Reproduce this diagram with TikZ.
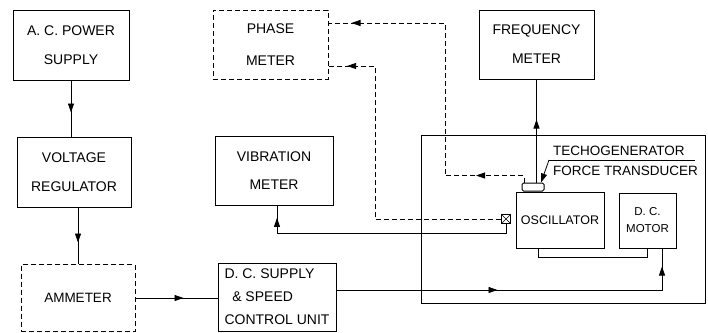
\documentclass[tikz,border=0pt]{standalone}
\usepackage{fontspec}
\setmainfont{Liberation Sans}
\usetikzlibrary{arrows.meta,decorations.markings}
\begin{document}
\begin{tikzpicture}[x=1pt,y=-1pt,
  blk/.style={draw,line width=1pt,inner sep=0pt,align=center,font=\fontsize{14}{29}\selectfont},
  dblk/.style={blk,dash pattern=on 5pt off 3pt},
  conn/.style={line width=0.8pt},
  dconn/.style={conn,dash pattern=on 5pt off 3pt},
  tip/.style={-{Triangle[length=9pt,width=6pt]}},
  marr/.style={postaction={decorate},decoration={markings,mark=at position #1 with {\arrow{Triangle[length=9pt,width=6pt]}}}},
  marrtwo/.style 2 args={postaction={decorate},decoration={markings,
     mark=at position #1 with {\arrow{Triangle[length=9pt,width=6pt]}},
     mark=at position #2 with {\arrow{Triangle[length=9pt,width=6pt]}}}},
  lbl/.style={inner sep=0pt,font=\fontsize{13.5}{16}\selectfont}
]
\useasboundingbox (0,0) rectangle (708,332);

% blocks
\node[blk,minimum width=116pt,minimum height=70pt] (ac) at (71,45) {A. C. POWER\\SUPPLY};
\node[blk,minimum width=114pt,minimum height=70pt] (vr) at (74,172) {VOLTAGE\\REGULATOR};
\node[dblk,minimum width=114pt,minimum height=67pt,font=\fontsize{13.5}{16}\selectfont] (am) at (78,298) {AMMETER};
\node[blk,minimum width=118pt,minimum height=68pt,align=left,font=\fontsize{14}{23}\selectfont] (dc) at (277,297) {D. C. SUPPLY\\\ \ \& SPEED\\CONTROL UNIT};
\node[dblk,minimum width=115pt,minimum height=69pt,font=\fontsize{14}{32}\selectfont] (pm) at (270.5,44.5) {PHASE\\METER};
\node[blk,minimum width=118pt,minimum height=69pt,font=\fontsize{14}{28}\selectfont] (vm) at (274,170.5) {VIBRATION\\METER};
\node[blk,minimum width=115pt,minimum height=69pt] (fm) at (536.5,44.5) {FREQUENCY\\METER};

% enclosure and its contents
\node[draw,line width=1pt,minimum width=284pt,minimum height=168pt,inner sep=0pt] (encl) at (563,219) {};
\node[blk,minimum width=88pt,minimum height=56pt,font=\fontsize{12.5}{15}\selectfont] (osc) at (560,220) {OSCILLATOR};
\node[blk,minimum width=57pt,minimum height=55pt,font=\fontsize{11.5}{17}\selectfont] (mot) at (647.5,220.5) {D. C.\\MOTOR};
\node[draw,line width=1pt,rounded corners=1.5pt,minimum width=22pt,minimum height=8pt,inner sep=0pt] (tg) at (533,187) {};
\node[draw,line width=0.8pt,minimum size=9pt,inner sep=0pt,
  path picture={\draw[line width=0.6pt] (path picture bounding box.south west) -- (path picture bounding box.north east)
                 (path picture bounding box.north west) -- (path picture bounding box.south east);}] (xb) at (506,219) {};

% labels
\node[lbl,anchor=west] (tgl) at (553,151) {TECHOGENERATOR};
\node[lbl,anchor=west] (ftl) at (553,171) {FORCE TRANSDUCER};
\coordinate (ul) at (549,160);
\coordinate (ule) at (695,160);
\draw[conn] (ul) -- (ule);
\draw[conn,tip] (ul) -- ([xshift=8pt]tg.north);

% left chain
\draw[conn,marr=32pt] (ac.south) -- (ac.south |- vr.north);
\draw[conn,marr=35pt] (vr.south -| am.north) -- (am.north);
\draw[conn,marr=48pt] (am.east) -- (am.east -| dc.west);

% supply to motor
\draw[conn,marrtwo={161pt}{349pt}] ([yshift=7pt]dc.east) -| ([xshift=14.5pt]mot.south);

% oscillator to motor
\draw[conn] ([xshift=-22pt]osc.south) -- ++(0,9) -| (mot.south);

% pickup to vibration meter
\draw[conn,marr=253pt] (xb.south) -- ++(0,9) -| ([xshift=3pt]vm.south);

% pickup to phase meter
\coordinate (p1) at (375,66);
\draw[dconn,marr=307pt] (xb.west) -| (p1) -- (p1 -| pm.east);

% tachogenerator to phase meter
\coordinate (p2) at (445,23);
\draw[dconn,marrtwo={55pt}{332pt}] ([xshift=-9pt]tg.north) -- ++(0,-7) -| (p2) -- (p2 -| pm.east);

% tachogenerator to frequency meter
\draw[conn,marr=63pt] (tg.north -| fm.south) -- (fm.south);
\end{tikzpicture}
\end{document}
